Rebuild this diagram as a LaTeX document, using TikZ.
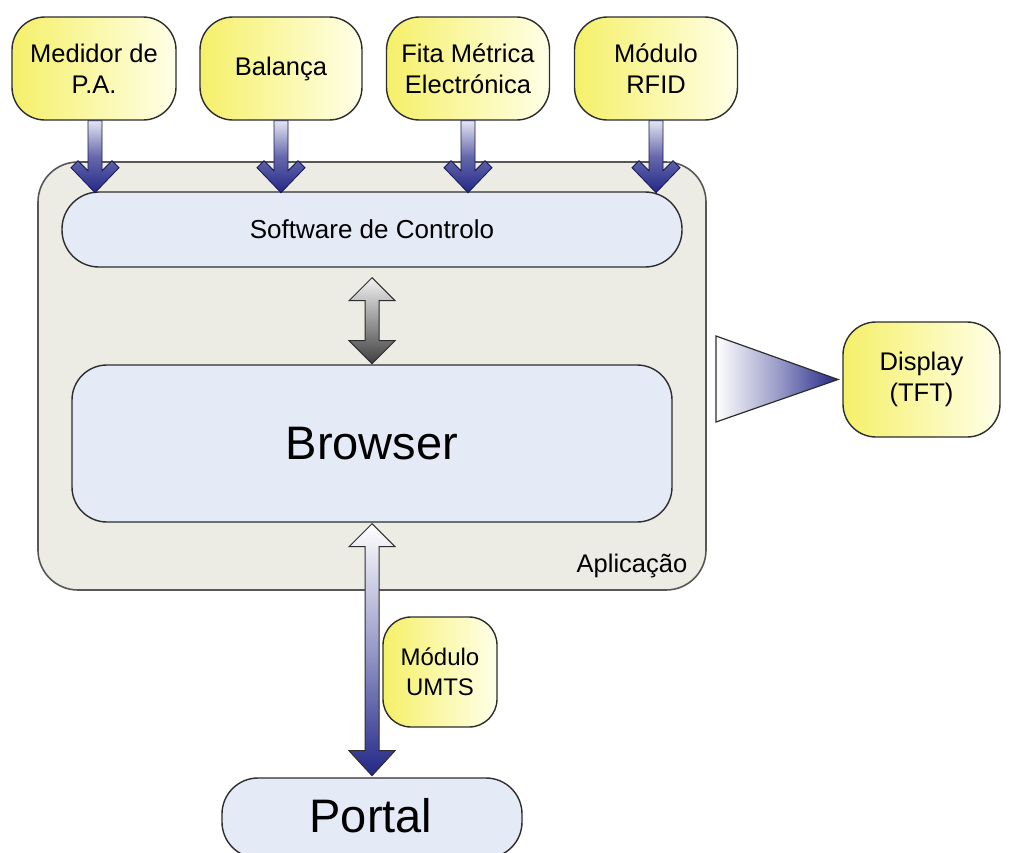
\documentclass[tikz,border=0pt]{standalone}
\usepackage{fontspec}
\setmainfont{Liberation Sans}
\usetikzlibrary{calc}
\definecolor{navy}{RGB}{35,40,135}
\definecolor{lav}{RGB}{228,228,242}
\definecolor{yel}{RGB}{245,240,105}
\definecolor{yelw}{RGB}{255,255,232}
\definecolor{appgray}{RGB}{236,236,228}
\definecolor{lblue}{RGB}{228,234,246}
\definecolor{edge}{RGB}{45,45,45}
\tikzset{
  ybox/.style={draw=edge, line width=1.4pt, rounded corners=33pt, left color=yel, right color=yelw,
     align=center, font=\fontsize{25.5}{31}\selectfont, inner sep=0pt},
  bbox/.style={draw=edge, line width=1.4pt, fill=lblue, inner sep=0pt},
  appbox/.style={draw=edge!80, line width=1.6pt, fill=appgray, rounded corners=40pt, inner sep=0pt},
  chev/.pic={
    \shade[top color=lav, bottom color=navy, middle color=navy!70]
      (-7,0)--(7,0)--(7,50)--(17,40)--(24,47)--(0,72)--(-24,47)--(-17,40)--(-7,50)--cycle;
    \draw[navy!60!black, line width=0.8pt]
      (-7,0)--(7,0)--(7,50)--(17,40)--(24,47)--(0,72)--(-24,47)--(-17,40)--(-7,50)--cycle;
  }
}
\begin{document}
\begin{tikzpicture}[x=1pt,y=-1pt]
\useasboundingbox (0,0) rectangle (1012,852);
\fill[white] (0,0) rectangle (1012,852);

% application box
\node[appbox, minimum width=668pt, minimum height=428pt] (app) at (372,376) {};
\node[anchor=base, font=\fontsize{25.5}{30}\selectfont] (aplab) at (632,572) {Aplicação};

% software and browser
\node[bbox, rounded corners=37pt, minimum width=620pt, minimum height=75pt, font=\fontsize{26}{30}\selectfont] (sw) at (372,229.5) {Software de Controlo};
\node[bbox, rounded corners=35pt, minimum width=600pt, minimum height=157pt, font=\fontsize{47}{56}\selectfont] (br) at (372,443.5) {Browser};

% top devices
\node[ybox, minimum width=164pt, minimum height=103pt] (m1) at (94,68.5) {Medidor de\\P.A.};
\node[ybox, minimum width=162pt, minimum height=103pt] (m2) at (281,68.5) {Balança};
\node[ybox, minimum width=163pt, minimum height=103pt] (m3) at (468,68.5) {Fita Métrica\\Electrónica};
\node[ybox, minimum width=163pt, minimum height=103pt] (m4) at (656,68.5) {Módulo\\RFID};

\pic at ($(m1.south)+(1,0)$) {chev};
\pic at (m2.south) {chev};
\pic at (m3.south) {chev};
\pic at (m4.south) {chev};

% gray double arrow
\coordinate (ga) at ($(sw.south)+(0,10)$);
\shade[top color=gray!10, bottom color=black!75]
  (ga) -- ++(23,23) -- ++(-16,0) -- ++(0,40) -- ++(16,0) -- ++(-23,23) -- ++(-23,-23) -- ++(16,0) -- ++(0,-40) -- ++(-16,0) -- cycle;
\draw[edge, line width=1pt]
  (ga) -- ++(23,23) -- ++(-16,0) -- ++(0,40) -- ++(16,0) -- ++(-23,23) -- ++(-23,-23) -- ++(16,0) -- ++(0,-40) -- ++(-16,0) -- cycle;

% display
\node[ybox, minimum width=157pt, minimum height=115pt] (disp) at (921.5,379.5) {Display\\(TFT)};
\coordinate (tri) at (716,336);
\shade[left color=white, right color=navy, middle color=navy!45] (tri) -- ++(0,86) -- (disp.west -| 838,0) -- cycle;
\draw[edge, line width=1.2pt] (tri) -- ++(0,86) -- (disp.west -| 838,0) -- cycle;

% portal and UMTS
\node[bbox, rounded corners=36pt, minimum width=300pt, minimum height=80pt] (portal) at (372,818) {};
\node[font=\fontsize{47}{56}\selectfont] (ptxt) at (371,816) {Portal};
\node[ybox, rounded corners=28pt, minimum width=114pt, minimum height=110pt, font=\fontsize{24}{30}\selectfont] (umts) at (440,672) {Módulo\\UMTS};

\coordinate (ua) at ($(br.south)+(0,1)$);
\shade[top color=white, bottom color=navy, middle color=lav!60!navy]
  (ua) -- ++(23,23) -- ++(-16,0) -- ++(0,204) -- ++(16,0) -- ++(-23,25) -- ++(-23,-25) -- ++(16,0) -- ++(0,-204) -- ++(-16,0) -- cycle;
\draw[edge, line width=1pt]
  (ua) -- ++(23,23) -- ++(-16,0) -- ++(0,204) -- ++(16,0) -- ++(-23,25) -- ++(-23,-25) -- ++(16,0) -- ++(0,-204) -- ++(-16,0) -- cycle;
\end{tikzpicture}
\end{document}
